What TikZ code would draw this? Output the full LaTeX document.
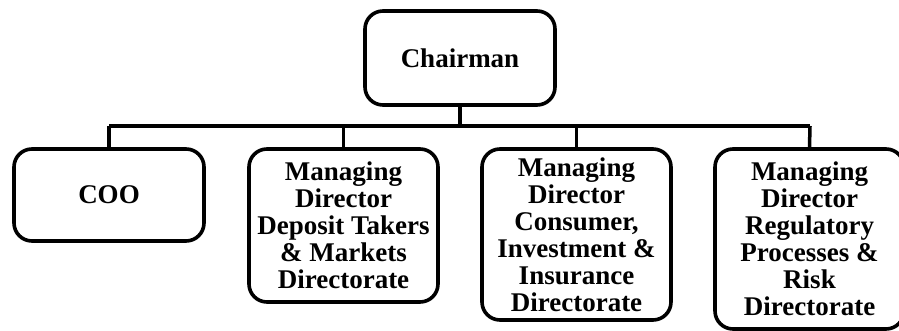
\documentclass[tikz,border=0pt]{standalone}
\usepackage{fontspec}
\setmainfont{Liberation Serif}
\begin{document}
\begin{tikzpicture}[x=1pt,y=1pt,
  orgbox/.style={draw, line width=3.6pt, rounded corners=18pt, align=center,
    font=\bfseries\fontsize{27}{27}\selectfont, inner sep=0pt, minimum width=189pt},
  link/.style={line width=3.5pt}]
\useasboundingbox (0,0) rectangle (899,331);
\clip (0,0) rectangle (899,331);
\node[orgbox, minimum width=190pt, minimum height=94pt] (chair) at (460,273) {Chairman};
\node[orgbox, minimum width=190pt, minimum height=92pt] (coo) at (109,136) {COO};
\node[orgbox, minimum height=153pt] (md1) at (343.5,105.5) {Managing\\Director\\Deposit Takers\\\& Markets\\Directorate};
\node[orgbox, minimum height=171pt] (md2) at (576.5,96.5) {Managing\\Director\\Consumer,\\Investment \&\\Insurance\\Directorate};
\node[orgbox, minimum height=180pt] (md3) at (809.5,92) {Managing\\Director\\Regulatory\\Processes \&\\Risk\\Directorate};
\coordinate (busL) at (109,205);
\coordinate (busR) at (810,205);
\draw[link] (chair.south) -- (chair.south |- busL);
\draw[link] (busL) -- (busR);
\draw[link] (busL) -- (coo.north);
\draw[link] (md1.north |- busL) -- (md1.north);
\draw[link] (md2.north |- busL) -- (md2.north);
\draw[link] (busR) -- (md3.north);
\end{tikzpicture}
\end{document}
